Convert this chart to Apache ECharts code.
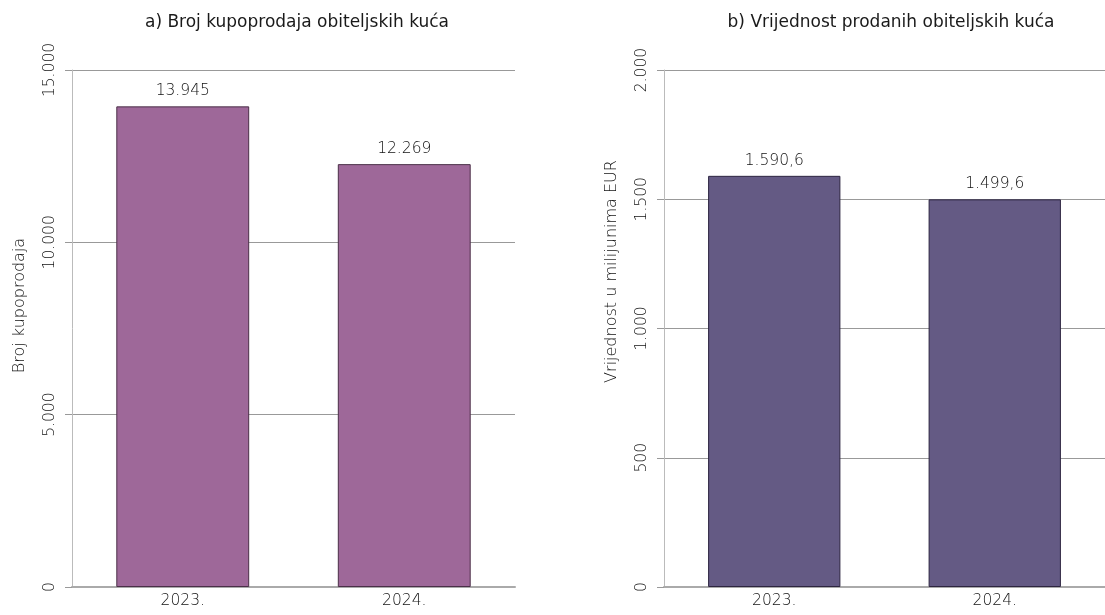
<!DOCTYPE html>
<html>
<head>
<meta charset="utf-8">
<script src="https://cdn.jsdelivr.net/npm/echarts@6/dist/echarts.min.js"></script>
<style>
  html, body { margin: 0; padding: 0; background: #fff; }
  #chart { width: 1105px; height: 615px; }
</style>
</head>
<body>
<div id="chart"></div>
<script>
// podaci
const years = ["2023.", "2024."]
const brojKupoprodaja = [13945, 12269]
const vrijednostMilEur = [1590.6, 1499.6]
const ticksA = [0, 5000, 10000, 15000]
const ticksB = [0, 500, 1000, 1500, 2000]

const font = "DejaVu Sans"
const textColor = "#111"
const labelSize = 15.5

// hrvatski format brojeva: 13.945 / 1.590,6
const fmt = (v, dec) => {
  const parts = v.toFixed(dec).split(".")
  parts[0] = parts[0].replace(/\B(?=(\d{3})+(?!\d))/g, ".")
  return parts.join(",")
}

const myChart = echarts.init(document.getElementById("chart"))

const yAxisBase = (ticks, gridIndex, name, shift) => ({
  type: "value",
  gridIndex: gridIndex,
  min: ticks[0],
  max: ticks[ticks.length - 1],
  interval: ticks[1] - ticks[0],
  name: name,
  nameLocation: "middle",
  nameGap: 44,
  nameRotate: 90,
  nameTextStyle: { fontFamily: font, fontSize: 16, fontWeight: 200, color: textColor, padding: [0, 0, 0, shift] },
  axisLine: { show: false },
  axisTick: { show: true, length: 7, lineStyle: { color: "#999" } },
  axisLabel: {
    rotate: 90,
    margin: 14,
    fontFamily: font,
    fontSize: labelSize,
    fontWeight: 200,
    color: textColor,
    formatter: (v) => fmt(v, 0)
  },
  splitLine: { show: true, lineStyle: { color: "#999", width: 1 } }
})

// samo produzena vertikalna os (iznad zadnje linije mreze)
const yAxisLine = (max, gridIndex) => ({
  type: "value",
  gridIndex: gridIndex,
  position: "left",
  min: 0,
  max: max,
  axisLine: { show: true, lineStyle: { color: "#bbb", width: 1 } },
  axisTick: { show: false },
  axisLabel: { show: false },
  splitLine: { show: false }
})

const xAxisBase = (gridIndex) => ({
  type: "category",
  gridIndex: gridIndex,
  data: years,
  axisLine: { show: true, lineStyle: { color: "#aaa", width: 2 } },
  axisTick: { show: false },
  axisLabel: { margin: 6, fontFamily: font, fontSize: labelSize, fontWeight: 200, color: textColor }
})

const option = {
  animation: false,
  title: [
    {
      text: "a) Broj kupoprodaja obiteljskih kuća",
      left: 292,
      top: 9,
      textAlign: "center",
      textStyle: { fontFamily: font, fontSize: 17, fontWeight: "normal", color: "#1a1a1a" }
    },
    {
      text: "b) Vrijednost prodanih obiteljskih kuća",
      left: 886,
      top: 9,
      textAlign: "center",
      textStyle: { fontFamily: font, fontSize: 17, fontWeight: "normal", color: "#1a1a1a" }
    }
  ],
  grid: [
    { left: 72, right: 590, top: 70, bottom: 28 },
    { left: 664, right: 0, top: 70, bottom: 28 }
  ],
  xAxis: [xAxisBase(0), xAxisBase(1)],
  yAxis: [
    yAxisBase(ticksA, 0, "Broj kupoprodaja", 46),
    yAxisBase(ticksB, 1, "Vrijednost u milijunima EUR", 114),
    yAxisLine(15493, 0),
    yAxisLine(2066, 1)
  ],
  series: [
    {
      name: "Broj kupoprodaja",
      type: "bar",
      xAxisIndex: 0,
      yAxisIndex: 0,
      barWidth: "60%",
      data: brojKupoprodaja,
      itemStyle: { color: "#9e6899", borderColor: "#4a2f48", borderWidth: 1 },
      label: {
        show: true,
        position: "top",
        distance: 7,
        fontFamily: font,
        fontSize: labelSize,
        fontWeight: 200,
        color: textColor,
        formatter: (p) => fmt(p.value, 0)
      }
    },
    {
      name: "Vrijednost u milijunima EUR",
      type: "bar",
      xAxisIndex: 1,
      yAxisIndex: 1,
      barWidth: "60%",
      data: vrijednostMilEur,
      itemStyle: { color: "#645a84", borderColor: "#2d2540", borderWidth: 1 },
      label: {
        show: true,
        position: "top",
        distance: 7,
        fontFamily: font,
        fontSize: labelSize,
        fontWeight: 200,
        color: textColor,
        formatter: (p) => fmt(p.value, 1)
      }
    }
  ]
}

myChart.setOption(option)
</script>
</body>
</html>
